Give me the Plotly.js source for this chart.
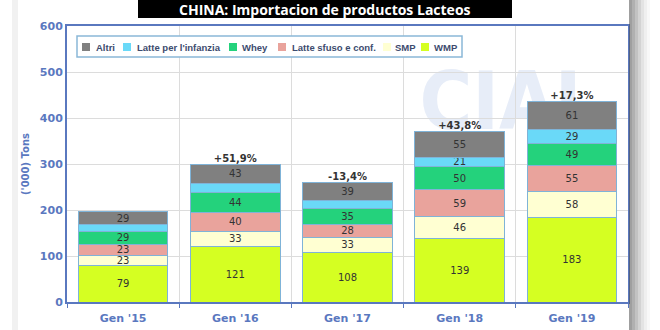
<!DOCTYPE html>
<html>
<head>
<meta charset="utf-8">
<script src="https://cdn.plot.ly/plotly-3.0.1.min.js"></script>
<style>html,body{margin:0;padding:0;background:#fff;}#chart{width:660px;height:330px;}</style>
</head>
<body>
<div id="chart"></div>
<script>
const categories = ["Gen '15", "Gen '16", "Gen '17", "Gen '18", "Gen '19"];
const wmp      = [79, 121, 108, 139, 183];
const smp      = [23, 33, 33, 46, 58];
const sfuso    = [23, 40, 28, 59, 55];
const whey     = [29, 44, 35, 50, 49];
const infanzia = [14, 19, 17, 21, 29];
const altri    = [29, 43, 39, 55, 61];
const infanziaLabels = ["", "", "", "21", "29"];
const changes = ["", "+51,9%", "-13,4%", "+43,8%", "+17,3%"];

const seriesNames = ["WMP", "SMP", "Latte sfuso e conf.", "Whey", "Latte per l'infanzia", "Altri"];
const seriesVals = [wmp, smp, sfuso, whey, infanzia, altri];
const seriesColors = ["#d5ff22", "#ffffd2", "#e9a39c", "#24d27c", "#6ad9f8", "#808080"];

const traces = seriesVals.map((vals, i) => ({
  type: 'bar',
  name: seriesNames[i],
  x: categories,
  y: vals,
  text: i === 4 ? infanziaLabels : vals.map(String),
  textposition: 'inside',
  insidetextanchor: 'middle',
  textangle: 0,
  textfont: {family: 'DejaVu Sans', size: 10, color: '#333333'},
  marker: {color: seriesColors[i], line: {color: '#7fb3d8', width: 1}},
  showlegend: false,
  hoverinfo: 'skip'
}));

const totals = categories.map((c, j) => seriesVals.reduce((s, v) => s + v[j], 0));
traces.push({
  type: 'scatter',
  mode: 'text',
  x: categories,
  y: totals,
  text: changes,
  textposition: 'top center',
  textfont: {family: 'DejaVu Sans', size: 10, color: '#333333', weight: 'bold'},
  showlegend: false,
  cliponaxis: false,
  hoverinfo: 'skip'
});

// pixel -> paper helpers (plot area: x 67..628, y 26..302)
const PX = px => (px - 67) / 561;
const PY = py => (302 - py) / 276;

const blue = '#5a78bf';
const shapes = [
  {type: 'rect', xref: 'paper', yref: 'paper', x0: PX(138), x1: PX(512), y0: PY(18), y1: PY(-30),
   fillcolor: '#000000', line: {width: 0}, layer: 'above'},
  {type: 'rect', xref: 'paper', yref: 'paper', x0: PX(410), x1: PX(610), y0: PY(150), y1: PY(40),
   fillcolor: 'rgba(0,0,0,0)', line: {width: 0}, layer: 'below',
   label: {text: 'CIAL', font: {family: 'DejaVu Sans Condensed', size: 80, color: '#e7edf8', weight: 'bold'}, textposition: 'middle center'}}
];
// right drop shadow
const shadeX = [629, 632, 635, 638, 641, 644, 647];
const shadeA = [0.55, 0.45, 0.35, 0.25, 0.16, 0.09, 0.04];
shadeX.forEach((px, k) => {
  shapes.push({type: 'rect', xref: 'paper', yref: 'paper',
    x0: PX(px), x1: PX(px + 3), y0: PY(340), y1: PY(-10),
    fillcolor: 'rgba(80,80,80,' + shadeA[k] + ')', line: {width: 0}, layer: 'above'});
});
shapes.push({type: 'rect', xref: 'paper', yref: 'paper',
  x0: PX(12), x1: PX(18), y0: PY(340), y1: PY(-10),
  fillcolor: 'rgba(200,200,200,0.25)', line: {width: 0}, layer: 'above'});

// legend (order as in the reference: top of stack first)
shapes.push({type: 'rect', xref: 'paper', yref: 'paper', x0: PX(77), x1: PX(462), y0: PY(57), y1: PY(36),
  fillcolor: '#ffffff', line: {color: '#8ab8d8', width: 1.5}, layer: 'above'});
const legSymX = [82, 123, 229, 278, 383, 421];
const legTxtX = [94, 135, 240, 290, 393, 432];
const annotations = [
  {xref: 'paper', yref: 'paper', x: PX(325), y: PY(9.5), xanchor: 'center', yanchor: 'middle',
   text: 'CHINA: Importacion de productos Lacteos', showarrow: false,
   font: {family: 'Open Sans', size: 14, color: '#ffffff', weight: 'bold'}}
];
const legOrder = [5, 4, 3, 2, 1, 0];
legOrder.forEach((si, k) => {
  shapes.push({type: 'rect', xref: 'paper', yref: 'paper',
    x0: PX(legSymX[k]), x1: PX(legSymX[k] + 8), y0: PY(51), y1: PY(43),
    fillcolor: seriesColors[si], line: {width: 0}, layer: 'above'});
  annotations.push({xref: 'paper', yref: 'paper', x: PX(legTxtX[k]), y: PY(47),
    xanchor: 'left', yanchor: 'middle', showarrow: false, text: seriesNames[si],
    font: {family: 'Liberation Sans', size: 9.5, color: '#3d4b6e', weight: 'bold'}});
});

const layout = {
  width: 660, height: 330,
  margin: {l: 67, r: 32, t: 26, b: 28},
  paper_bgcolor: '#ffffff',
  plot_bgcolor: '#ffffff',
  barmode: 'stack',
  bargap: 0.2,
  showlegend: false,
  xaxis: {
    type: 'category',
    tickson: 'boundaries',
    showgrid: true, gridcolor: '#dcdcdc',
    ticks: 'outside', ticklen: 4, tickcolor: blue,
    showline: true, linecolor: blue, linewidth: 2, mirror: true,
    tickfont: {family: 'DejaVu Sans', size: 11, color: blue, weight: 'bold'},
    ticklabelstandoff: 5,
    fixedrange: true
  },
  yaxis: {
    range: [0, 600], dtick: 100,
    showgrid: true, gridcolor: '#dcdcdc',
    showline: true, linecolor: blue, linewidth: 2, mirror: true,
    zeroline: false,
    tickfont: {family: 'DejaVu Sans', size: 11, color: blue, weight: 'bold'},
    title: {text: "('000) Tons", font: {family: 'DejaVu Sans', size: 10, color: blue, weight: 'bold'}, standoff: 8},
    fixedrange: true
  },
  uniformtext: {mode: 'show', minsize: 10},
  shapes: shapes,
  annotations: annotations
};

Plotly.newPlot('chart', traces, layout, {displayModeBar: false, staticPlot: true});
</script>
</body>
</html>
